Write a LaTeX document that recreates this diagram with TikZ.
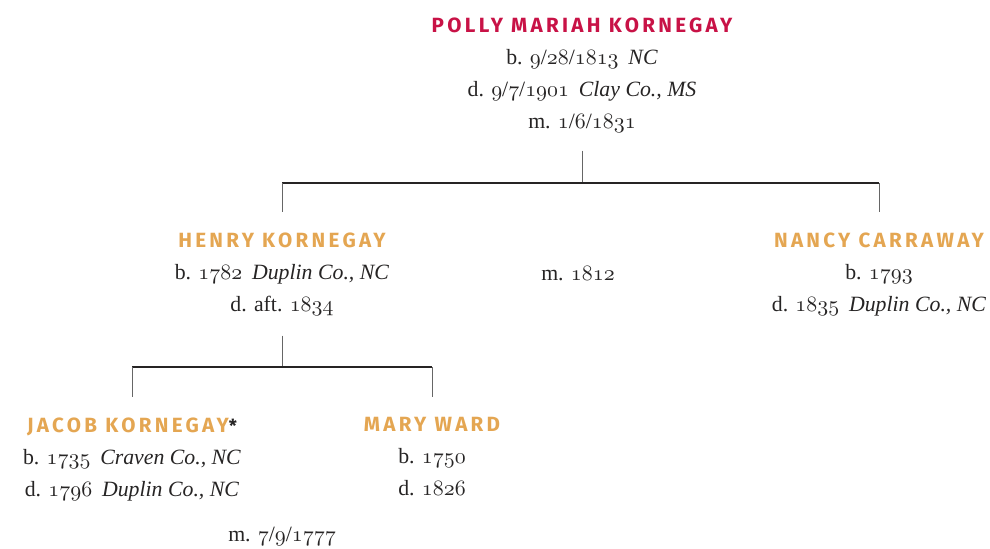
\documentclass[tikz,border=0pt]{standalone}
\usepackage{fontspec}
\usetikzlibrary{calc,positioning}
\usepackage{color}
\setmainfont{Liberation Serif}
\newfontfamily\namefont{Fira Sans}[LetterSpace=16]
\definecolor{ink}{RGB}{38,36,36}
\definecolor{rootred}{RGB}{200,18,70}
\definecolor{ancgold}{RGB}{228,166,82}
\newcommand\osn[1]{{\fontencoding{OML}\fontfamily{cmm}\fontseries{m}\fontshape{it}\selectfont #1}}
\newcommand\plc[1]{\hspace{0.45em}\textit{#1}}
\newcommand\who[2]{\textcolor{#1}{\namefont\bfseries\fontsize{10.3}{16}\selectfont #2}}

\begin{document}
\begin{tikzpicture}[x=0.5pt,y=-0.5pt,
  person/.style={align=center,anchor=north,inner sep=0pt,text=ink,
    font=\fontsize{10.9}{16}\selectfont},
  wed/.style={anchor=base,inner sep=0pt,text=ink,font=\fontsize{10.9}{16}\selectfont},
  bar/.style={draw=ink,line width=1pt},
  stem/.style={draw=black!60,line width=0.5pt}]
\useasboundingbox (0,0) rectangle (990,548);

% generation 1
\node [person] (polly) at (582,17) {\who{rootred}{POLLY MARIAH KORNEGAY}\\
  b. \osn{9}/\osn{28}/\osn{1813}\plc{NC}\\
  d. \osn{9}/\osn{7}/\osn{1901}\plc{Clay Co., MS}\\
  m. \osn{1}/\osn{6}/\osn{1831}};

% generation 2
\node [person] (henry) at (282,232) {\who{ancgold}{HENRY KORNEGAY}\\
  b. \osn{1782}\plc{Duplin Co., NC}\\
  d. aft. \osn{1834}};
\node [person] (nancy) at (879,232) {\who{ancgold}{NANCY CARRAWAY}\\
  b. \osn{1793}\\
  d. \osn{1835}\plc{Duplin Co., NC}};
\node [wed] (wed2) at (578,280) {m. \osn{1812}};

% generation 3
\node [person] (jacob) at (132,417) {\who{ancgold}{JACOB KORNEGAY}\textcolor{ink}{\namefont\bfseries\fontsize{9}{16}\selectfont *}\\
  b. \osn{1735}\plc{Craven Co., NC}\\
  d. \osn{1796}\plc{Duplin Co., NC}};
\node [person] (mary) at (432,417) {\who{ancgold}{MARY WARD}\\
  b. \osn{1750}\\
  d. \osn{1826}};
\node [wed] (wed3) at (282,541) {m. \osn{7}/\osn{9}/\osn{1777}};

% connectors
\coordinate (bar2) at (582,183);
\coordinate (bar3) at (282,367);
\draw [stem] ([yshift=-9pt]polly.south) -- (bar2);
\draw [bar] (henry.north |- bar2) -- (nancy.north |- bar2);
\draw [stem] ([yshift=-10pt]henry.south) -- (bar3);
\draw [bar] (jacob.north |- bar3) -- (mary.north |- bar3);
\foreach \p / \b in {henry/bar2,nancy/bar2,jacob/bar3,mary/bar3}
  \draw [stem] (\p.north |- \b) -- ([yshift=10pt]\p.north);

\end{tikzpicture}
\end{document}
